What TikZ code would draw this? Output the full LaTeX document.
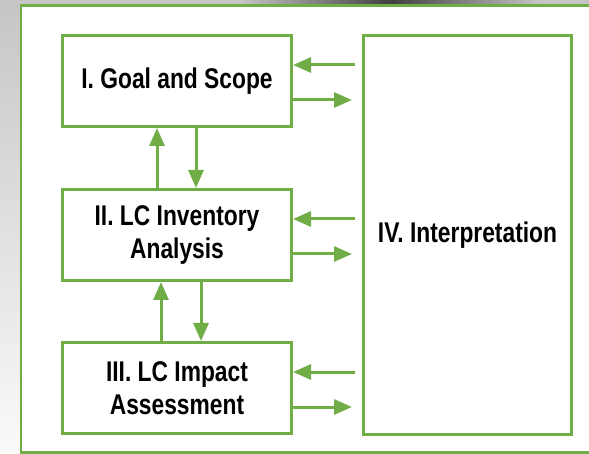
\documentclass[tikz,border=0pt]{standalone}
\usepackage{fontspec}
\setmainfont{Liberation Sans}[FakeStretch=0.8]
\usetikzlibrary{positioning}
\usetikzlibrary{arrows.meta}
\usetikzlibrary{calc}
\definecolor{lca-green}{HTML}{70AD47}
\colorlet{frame}{lca-green}
\tikzset{
  stage/.style={
    draw=frame,
    line width=3pt,
    fill=white,
    align=center,
    inner sep=0pt,
    font=\fontsize{28.5}{33}\selectfont\bfseries,
    minimum width=229pt,
    minimum height=91pt},
  flow/.style={draw=frame, line width=3pt, -{Triangle[length=18pt,width=15pt]}},
}
\newcommand{\stagelinks}[1]{%
% back from interpretation
\draw[flow] ($(interp.west |- #1.east)+(-7,-16)$) -- ($(#1.east)+(0,-16)$);
% on to interpretation
\draw[flow] ($(#1.east)+(0,19)$) -- ($(interp.west |- #1.east)+(-10,19)$);
}

\begin{document}
\begin{tikzpicture}[x=1pt, y=-1pt]
\useasboundingbox (0,0) rectangle (589,454);
% screen behind the slide
\fill[top color=gray!45, bottom color=gray!4] (0,0) rectangle (589,454);
\shade[left color=gray!45, right color=gray!45, middle color=black!75] (240,0) rectangle (540,4.5);
\fill[white] (21,5) rectangle (589,452);
\draw[frame, line width=2.6pt] (589,5.3) -- (21,5.3) -- (21,452.5) -- (589,452.5);
% stages
\node[stage] (goal) at (177,81) {I. Goal and Scope};
\node[stage, below=60pt of goal] (inv) {II. LC Inventory\\Analysis};
\node[stage, below=59pt of inv] (impact) {III. LC Impact\\Assessment};
\node[stage, minimum width=208pt, minimum height=399pt] (interp) at (467.5,235) {IV. Interpretation};
% links between the stages
\draw[flow] ([xshift=-20pt]inv.north) -- ([xshift=-20pt]goal.south);
\draw[flow] ([xshift=19pt]goal.south) -- ([xshift=19pt]inv.north);
\draw[flow] ([xshift=-16pt]impact.north) -- ([xshift=-16pt]inv.south);
\draw[flow] ([xshift=24pt]inv.south) -- ([xshift=24pt]impact.north);
\stagelinks{goal}
\stagelinks{inv}
\stagelinks{impact}
\end{tikzpicture}
\end{document}
